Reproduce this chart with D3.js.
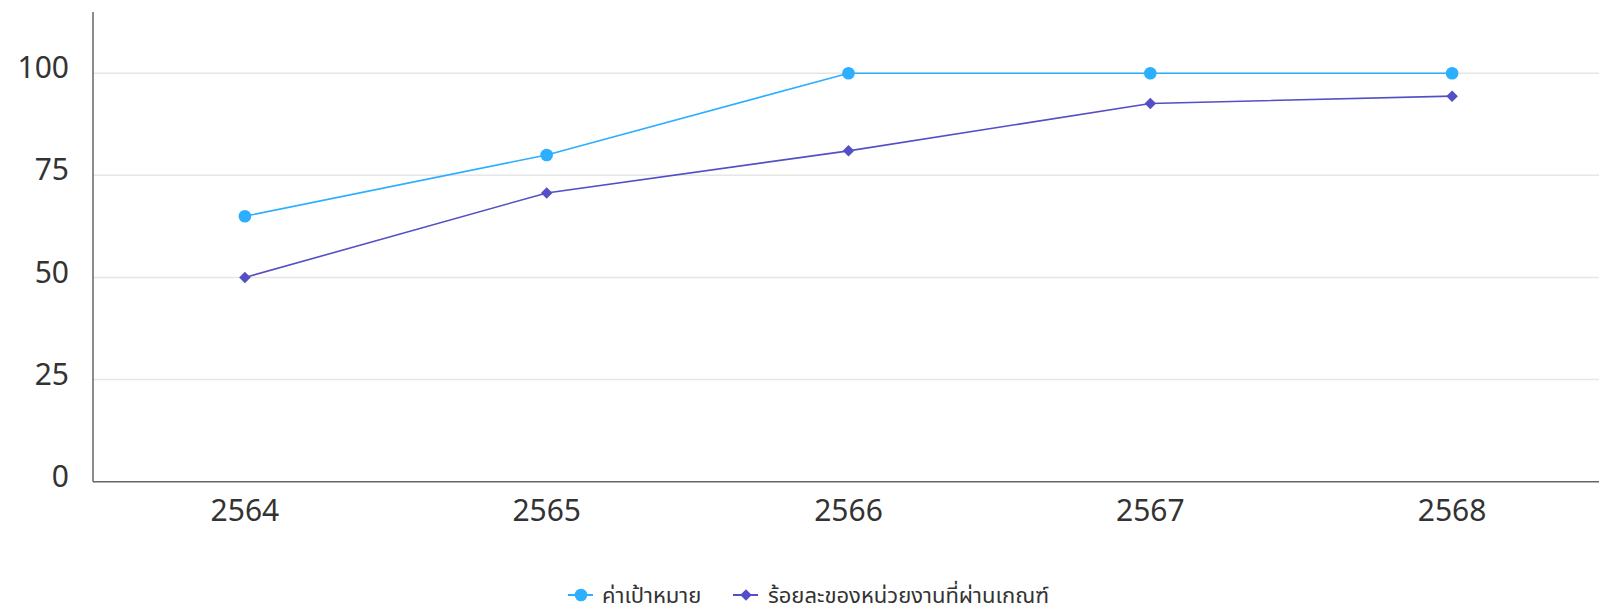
<!DOCTYPE html>
<html><head><meta charset="utf-8">
<script src="https://cdn.jsdelivr.net/npm/d3@7"></script>
<style>
html,body{margin:0;padding:0;background:#fff;}
svg{display:block;font-family:"Noto Sans","Noto Sans Thai","Open Sans",sans-serif;}
svg text{font-family:"Noto Sans","Noto Sans Thai","Open Sans",sans-serif;}
</style></head><body>
<svg id="c" width="1599" height="609"></svg>
<script>
const categories = ["2564","2565","2566","2567","2568"];
const seriesNames = ["ค่าเป้าหมาย","ร้อยละของหน่วยงานที่ผ่านเกณฑ์"];
const targetValues = [65, 80, 100, 100, 100];
const passedValues = [50, 70.7, 81, 92.6, 94.4];
const yTicks = [0, 25, 50, 75, 100];
const colors = ["#2caffe", "#544fc5"];

const svg = d3.select("#c");
const plotLeft = 93, plotRight = 1599, plotTop = 12, plotBottom = 481.7;

const x = d3.scaleBand().domain(categories).range([94, 1603]);
const y = d3.scaleLinear().domain([0, 115]).range([plotBottom, plotTop]);

// gridlines
svg.append("g").selectAll("line").data(yTicks.filter(d=>d>0)).join("line")
  .attr("x1", plotLeft).attr("x2", plotRight)
  .attr("y1", d=>y(d)).attr("y2", d=>y(d))
  .attr("stroke", "#e6e6e6").attr("stroke-width", 1.5);

// y axis
const yAxis = svg.append("g").attr("transform", `translate(${plotLeft},0)`)
  .call(d3.axisLeft(y).tickValues(yTicks).tickSize(0).tickPadding(24))
  .attr("font-family", null).attr("font-size", null);
yAxis.select(".domain").attr("stroke", "#666").attr("stroke-width", 1.5)
  .attr("d", `M0,${plotTop}V${plotBottom}`);
yAxis.selectAll("text").attr("font-size", 30).attr("fill", "#333")
  .attr("dy", "0.32em").attr("y", -5);

// x axis
const xAxis = svg.append("g").attr("transform", `translate(0,${plotBottom})`)
  .call(d3.axisBottom(x).tickSize(0).tickPadding(18))
  .attr("font-family", null).attr("font-size", null);
xAxis.select(".domain").attr("stroke", "#666").attr("stroke-width", 1.5)
  .attr("d", `M${plotLeft},0H${plotRight}`);
xAxis.selectAll("text").attr("font-size", 30).attr("fill", "#333")
  .attr("dy", "0.71em");

const cx = d => x(d) + x.bandwidth()/2;
const line = d3.line().x(d=>cx(d[0])).y(d=>y(d[1]));
const dataSets = [targetValues, passedValues];

dataSets.forEach((vals, i) => {
  const pts = categories.map((c, j) => [c, vals[j]]);
  svg.append("path").datum(pts).attr("d", line)
    .attr("fill", "none").attr("stroke", colors[i]).attr("stroke-width", 1.6);
  const sym = i === 0 ? d3.symbolCircle : d3.symbolDiamond2;
  const size = i === 0 ? Math.PI*6.3*6.3 : 2*6.5*6.5;
  svg.append("g").selectAll("path").data(pts).join("path")
    .attr("d", d3.symbol(sym, size))
    .attr("transform", d=>`translate(${cx(d[0])},${y(d[1])})`)
    .attr("fill", colors[i]);
});

// legend
const legendY = 595;
const legendItems = [
  {x: 568, tx: 602, name: seriesNames[0], sym: d3.symbolCircle, size: Math.PI*6.3*6.3},
  {x: 733, tx: 768, name: seriesNames[1], sym: d3.symbolDiamond2, size: 2*6.5*6.5}
];
const lg = svg.append("g");
legendItems.forEach((it, i) => {
  lg.append("line").attr("x1", it.x).attr("x2", it.x+25)
    .attr("y1", legendY).attr("y2", legendY)
    .attr("stroke", colors[i]).attr("stroke-width", 2);
  lg.append("path").attr("d", d3.symbol(it.sym, it.size))
    .attr("transform", `translate(${it.x+13},${legendY})`).attr("fill", colors[i]);
  lg.append("text").attr("x", it.tx).attr("y", legendY).attr("dy", "0.35em")
    .attr("font-size", 22).attr("fill", "#333").text(it.name);
});
</script></body></html>
